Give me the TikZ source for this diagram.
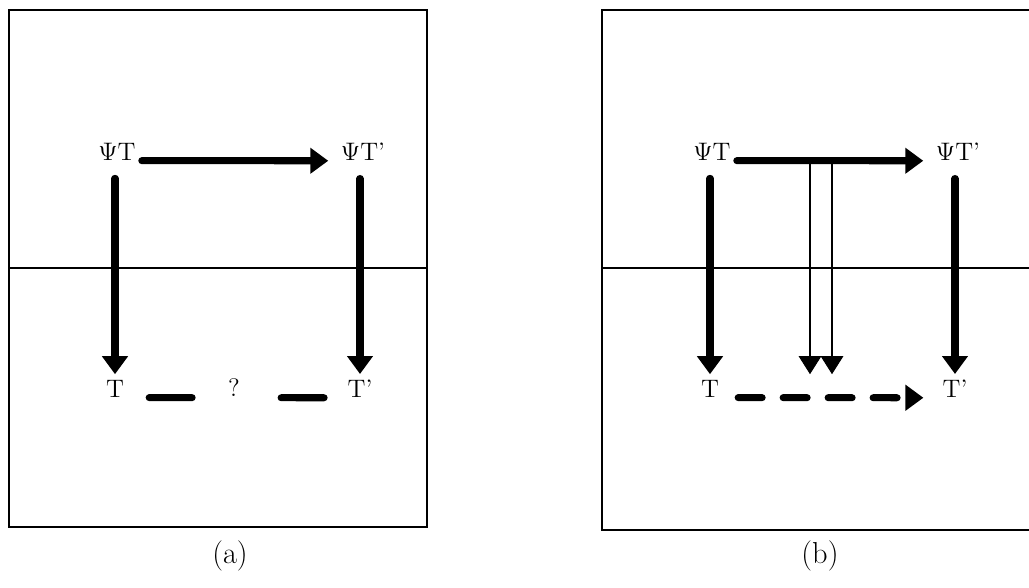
\documentclass[tikz,border=0pt]{standalone}
\usetikzlibrary{arrows.meta}

\begin{document}
\begin{tikzpicture}[x=0.02cm, y=-0.02cm,
        every node/.style={font=\Large},
        caption/.style={font=\LARGE},
        frame/.style={line width=1.7pt},
        rule/.style={line width=0.6pt},
        heavy/.style={line width=4pt, line cap=round},
        heavyarrow/.style={heavy, -{Triangle[width=0.5cm,length=0.36cm]}},
        thinarrow/.style={line width=0.6pt, -{Triangle[width=0.45cm,length=0.36cm]}}]
    \useasboundingbox (0,0) rectangle (1029,588);
    % (a)
    \draw[frame] (9,10) rectangle (427,527);
    \draw[rule] (9,268) -- (427,268);
    \node (psiT) at (117,152) {$\Psi$T};
    \node (psiTp) at (363,152) {$\Psi$T'};
    \node (T) at (115,389) {T};
    \node (Tp) at (360,389) {T'};
    \node (q) at (234,388) {?};
    \draw[heavyarrow, shorten >=0.13cm] (psiT.base east) -- (psiTp.base west);
    \draw[heavyarrow, shorten <=0.23cm] (T.north |- psiT.south) -- (T.north);
    \draw[heavyarrow, shorten <=0.23cm] (Tp.north |- psiTp.south) -- (Tp.north);
    \draw[heavy, dash pattern=on 0.86cm off 1.78cm, shorten <=0.38cm, shorten >=0.05cm]
        (T.base east) -- (Tp.base west);
    \node[caption] (capa) at (230,556) {(a)};
    % (b)
    \draw[frame] (1029,10) -| (602,530) -- (1029,530);
    \draw[rule] (602,268) -- (1029,268);
    \node (psiT2) at (712,152) {$\Psi$T};
    \node (psiTp2) at (958,152) {$\Psi$T'};
    \node (T2) at (710,389) {T};
    \node (Tp2) at (955,389) {T'};
    \draw[heavyarrow, shorten >=0.13cm] (psiT2.base east) -- (psiTp2.base west);
    \draw[heavyarrow, shorten <=0.23cm] (T2.north |- psiT2.south) -- (T2.north);
    \draw[heavyarrow, shorten <=0.23cm] (Tp2.north |- psiTp2.south) -- (Tp2.north);
    \coordinate (d1) at (810,160);
    \coordinate (d2) at (832,160);
    \draw[thinarrow] (d1) -- (d1 |- T2.north);
    \draw[thinarrow] (d2) -- (d2 |- T2.north);
    \draw[heavyarrow, dash pattern=on 0.48cm off 0.42cm, shorten <=0.26cm, shorten >=0.26cm]
        (T2.base east) -- (Tp2.base west);
    \node[caption] (capb) at (820,556) {(b)};
\end{tikzpicture}
\end{document}
